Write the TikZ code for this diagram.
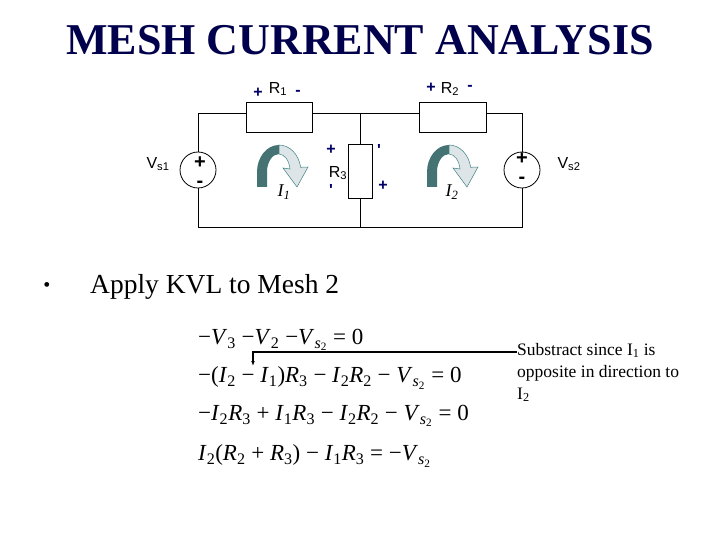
\documentclass[tikz,border=0pt]{standalone}
\usepackage{fontspec}
\usetikzlibrary{arrows.meta}
\setmainfont{Liberation Serif}
\newfontfamily\arial{Liberation Sans}
\newcommand{\vv}[2]{\textit{#1}\textsubscript{#2}}
\newcommand{\vs}{\textit{V}\textsubscript{\textit{s}\textsubscript{2}}}
\begin{document}
\begin{tikzpicture}[x=1pt,y=-1pt,
  wire/.style={line width=0.8pt},
  pm/.style={text=blue!40!black,font=\arial\bfseries\fontsize{16}{16}\selectfont,inner sep=0pt},
  lbl/.style={font=\arial\fontsize{16}{16}\selectfont,inner sep=0pt},
  eq/.style={anchor=west,font=\fontsize{23}{23}\selectfont,inner sep=0pt}]
\useasboundingbox (0,0) rectangle (720,540);
\node[font=\bfseries\fontsize{44}{44}\selectfont,text=blue!30!black] (title) at (360,40) {MESH CURRENT ANALYSIS};
% circuit corners
\coordinate (tl) at (198,113); \coordinate (tm) at (360,113); \coordinate (tr) at (522,113);
\coordinate (bl) at (198,227); \coordinate (bm) at (360,227); \coordinate (br) at (522,227);
\draw[wire] (tl) -- (tr) -- (br) -- (bl) -- cycle;
\draw[wire] (tm) -- (bm);
\node[draw,line width=0.8pt,fill=white,minimum width=66pt,minimum height=30pt] (R1) at (279,117) {};
\node[draw,line width=0.8pt,fill=white,minimum width=67pt,minimum height=30pt] (R2) at (453,117) {};
\node[draw,line width=0.8pt,fill=white,minimum width=24pt,minimum height=54pt] (R3) at (360,171) {};
\node[circle,draw,line width=0.8pt,fill=white,minimum size=36pt,inner sep=0pt] (V1) at (198,170) {};
\node[circle,draw,line width=0.8pt,fill=white,minimum size=36pt,inner sep=0pt] (V2) at (522,170) {};
\node[font=\arial\bfseries\fontsize{20}{20}\selectfont,inner sep=0pt] (v1p) at (200,163) {+};
\node[font=\arial\bfseries\fontsize{20}{20}\selectfont,inner sep=0pt] (v1m) at (200,184) {-};
\node[font=\arial\bfseries\fontsize{20}{20}\selectfont,inner sep=0pt] (v2p) at (522,159) {+};
\node[font=\arial\bfseries\fontsize{20}{20}\selectfont,inner sep=0pt] (v2m) at (522,180) {-};
\node[lbl] (lv1) at (158,164) {V\textsubscript{s1}};
\node[lbl] (lv2) at (569,164) {V\textsubscript{s2}};
\node[lbl] (lr1) at (278,89) {R\textsubscript{1}};
\node[lbl] (lr2) at (450,89) {R\textsubscript{2}};
\node[lbl] (lr3) at (338,173) {R\textsubscript{3}};
\node[pm] (p1) at (258,93) {+};
\node[pm] (m1) at (298,93) {-};
\node[pm] (p2) at (431,88) {+};
\node[pm] (m2) at (470,88) {-};
\node[pm] (p3) at (331,150) {+};
\node[pm] (m3) at (331,190) {'};
\node[pm] (m3b) at (379,150) {'};
\node[pm] (p3b) at (383,186) {+};
% mesh arrows
\foreach \cx in {280,450}{
  \fill[gray!60!teal!90!black] (\cx-23,187) -- (\cx-23,172) arc(180:270:22 and 27) -- (\cx-1,154) arc(270:180:12 and 18) -- (\cx-13,187) -- cycle;
  \fill[cyan!20!gray!25,draw=gray!50!teal,line width=0.5pt] (\cx-1,145) arc(270:350:22 and 27) -- (\cx+28,167) -- (\cx+17,187) -- (\cx+3,168) -- (\cx+10,169) arc(350:270:11 and 18) -- cycle;
}
\node[font=\itshape\fontsize{18}{18}\selectfont,inner sep=0pt] (i1) at (284,192) {I\textsubscript{1}};
\node[font=\itshape\fontsize{18}{18}\selectfont,inner sep=0pt] (i2) at (452,192) {I\textsubscript{2}};
% text
\node[font=\fontsize{20}{20}\selectfont] (bul) at (47,287) {•};
\node[anchor=west,font=\fontsize{27.5}{28}\selectfont,inner sep=0pt] (kvl) at (90,287) {Apply KVL to Mesh 2};
\node[eq] (e1) at (198,340) {−\vv{V}{3} −\vv{V}{2} −\vs{} = 0};
\node[eq] (e2) at (198,378) {−(\vv{I}{2} − \vv{I}{1})\vv{R}{3} − \vv{I}{2}\vv{R}{2} − \vs{} = 0};
\node[eq] (e3) at (198,416) {−\vv{I}{2}\vv{R}{3} + \vv{I}{1}\vv{R}{3} − \vv{I}{2}\vv{R}{2} − \vs{} = 0};
\node[eq] (e4) at (198,456) {\vv{I}{2}(\vv{R}{2} + \vv{R}{3}) − \vv{I}{1}\vv{R}{3} = −\vs};
\node[anchor=north west,align=left,font=\fontsize{17.5}{22}\selectfont,inner sep=0pt] (note) at (517,343) {Substract since I\textsubscript{1} is\\opposite in direction to\\I\textsubscript{2}};
\coordinate (c1) at (253,352);
\coordinate (c2) at (253,366);
\draw[line width=1.2pt,-{Latex[length=5pt]}] (note.north west |- 0,352) -- (c1) -- (c2);
\end{tikzpicture}
\end{document}
